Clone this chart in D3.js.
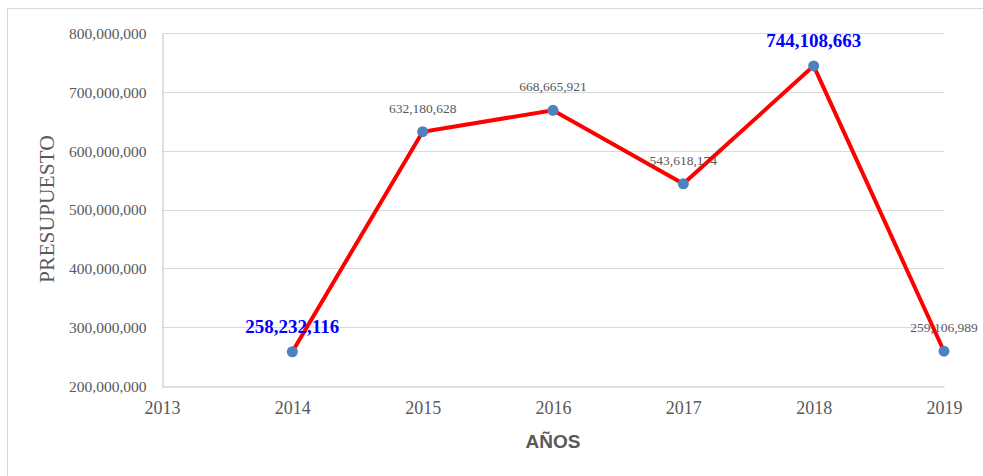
<!DOCTYPE html>
<html>
<head>
<meta charset="utf-8">
<script src="https://cdn.jsdelivr.net/npm/d3@7"></script>
<style>
  body { margin: 0; background: #fff; }
  svg { display: block; }
</style>
</head>
<body>
<div class="wrapper"><svg width="983" height="476"></svg></div>
<script>
// data
var years = [2014, 2015, 2016, 2017, 2018, 2019];
var budget = [258232116, 632180628, 668665921, 543618174, 744108663, 259106989];
var yTicks = [200000000, 300000000, 400000000, 500000000, 600000000, 700000000, 800000000];
var xTicks = [2013, 2014, 2015, 2016, 2017, 2018, 2019];
var highlighted = [2014, 2018];

draw();

function draw()
{
    var width = 983, height = 476;
    var margin = {top: 33, right: 39, bottom: 90, left: 162};

    var svg = d3.select('.wrapper').select('svg');
    svg.html('');

    // outer chart frame
    svg.append('rect')
        .attr('x', 7.5).attr('y', 8.5)
        .attr('width', width).attr('height', height)
        .attr('fill', 'none')
        .attr('stroke', '#d9d9d9');

    var x = d3.scaleLinear().domain([2013, 2019]).range([margin.left, width - margin.right]);
    var y = d3.scaleLinear().domain([200000000, 800000000]).range([height - margin.bottom, margin.top]);

    /* gridlines */
    svg.append('g').selectAll('line').data(yTicks.slice(1)).enter().append('line')
        .attr('x1', margin.left).attr('x2', width - margin.right)
        .attr('y1', function(d) {return Math.round(y(d)) + 0.5;})
        .attr('y2', function(d) {return Math.round(y(d)) + 0.5;})
        .attr('stroke', '#d9d9d9');

    /* y axis */
    var yAxis = svg.append('g')
        .attr('transform', 'translate(' + (margin.left + 0.5) + ',0.5)')
        .call(d3.axisLeft(y).tickValues(yTicks).tickFormat(d3.format(',')).tickSize(0).tickPadding(16));
    yAxis.select('.domain').attr('stroke', '#bfbfbf');
    yAxis.selectAll('text')
        .attr('font-family', '"Liberation Serif", serif')
        .attr('font-size', 15.5)
        .attr('fill', '#595959');

    /* x axis */
    var xAxis = svg.append('g')
        .attr('transform', 'translate(0,' + (height - margin.bottom + 0.5) + ')')
        .call(d3.axisBottom(x).tickValues(xTicks).tickFormat(d3.format('d')).tickSize(0).tickPadding(15));
    xAxis.select('.domain').attr('stroke', '#bfbfbf');
    xAxis.selectAll('text')
        .attr('font-family', '"Liberation Serif", serif')
        .attr('font-size', 18)
        .attr('fill', '#595959');

    /* axis titles */
    svg.append('text')
        .attr('transform', 'translate(54,209) rotate(-90)')
        .attr('text-anchor', 'middle')
        .attr('font-family', '"Liberation Serif", serif')
        .attr('font-size', 21.5)
        .attr('fill', '#595959')
        .text('PRESUPUESTO');

    svg.append('text')
        .attr('x', (margin.left + width - margin.right) / 2)
        .attr('y', 448)
        .attr('text-anchor', 'middle')
        .attr('font-family', '"Liberation Sans", sans-serif')
        .attr('font-weight', 'bold')
        .attr('font-size', 19)
        .attr('fill', '#595959')
        .text('AÑOS');

    var pts = years.map(function(d, i) {return {year: d, value: budget[i]};});

    /* the line */
    var line = d3.line()
        .x(function(d) {return x(d.year);})
        .y(function(d) {return y(d.value);});

    svg.append('path')
        .datum(pts)
        .attr('d', line)
        .attr('fill', 'none')
        .attr('stroke', '#ff0000')
        .attr('stroke-width', 4);

    svg.append('g').selectAll('circle').data(pts).enter().append('circle')
        .attr('cx', function(d) {return x(d.year);})
        .attr('cy', function(d) {return y(d.value);})
        .attr('r', 5.5)
        .attr('fill', '#4f81bd');

    /* value labels */
    svg.append('g').selectAll('text').data(pts).enter().append('text')
        .attr('x', function(d) {return x(d.year);})
        .attr('y', function(d) {return y(d.value) - 19;})
        .attr('text-anchor', 'middle')
        .attr('font-family', '"Liberation Serif", serif')
        .attr('font-size', function(d) {return highlighted.indexOf(d.year) >= 0 ? 19 : 13.5;})
        .attr('font-weight', function(d) {return highlighted.indexOf(d.year) >= 0 ? 'bold' : 'normal';})
        .attr('fill', function(d) {return highlighted.indexOf(d.year) >= 0 ? '#0000ff' : '#595959';})
        .text(function(d) {return d3.format(',')(d.value);});
}
</script>
</body>
</html>
